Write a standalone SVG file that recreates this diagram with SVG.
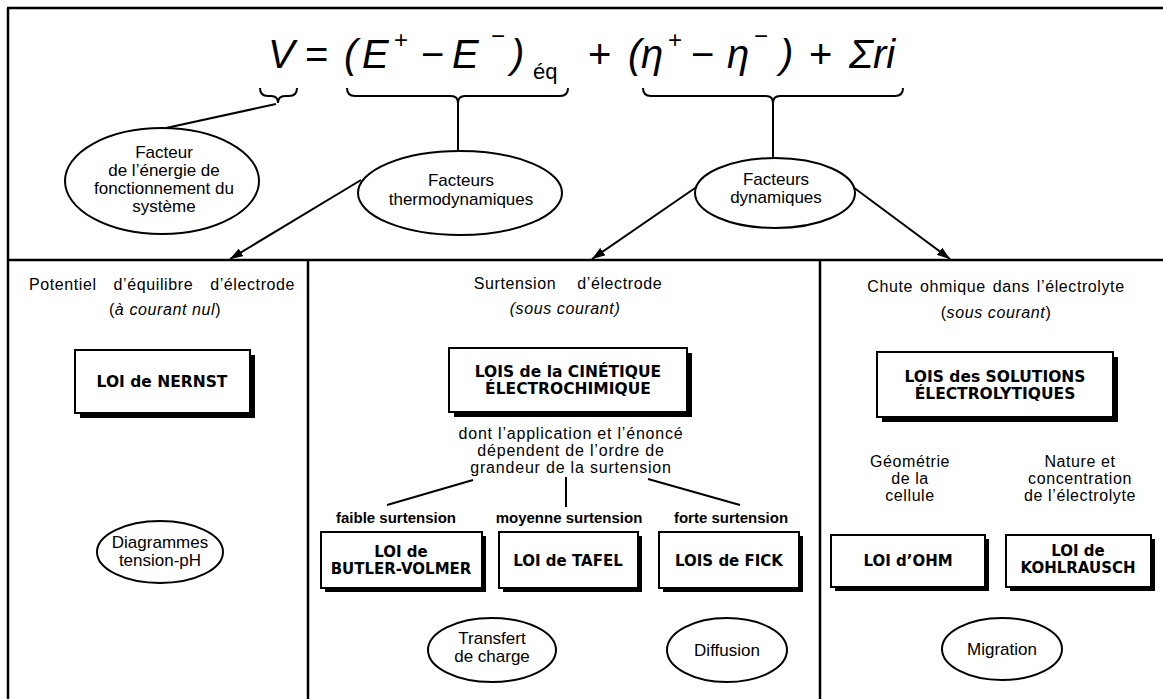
<svg xmlns="http://www.w3.org/2000/svg" width="1163" height="699" viewBox="0 0 1163 699">
<defs>
<style>
.bd{stroke:#000;stroke-width:2.5;fill:none}
.ln{stroke:#000;stroke-width:2;fill:none}
.el{fill:#fff;stroke:#000;stroke-width:2}
.sh{fill:#000}
.bx{fill:#fff;stroke:#000;stroke-width:2}
.t{font-family:"Liberation Sans",Arial,sans-serif;font-size:17px;fill:#000;text-anchor:middle}
.m{font-size:16px;letter-spacing:0.6px}
.hd{font-size:16px;letter-spacing:0.6px}
.it{font-style:italic}
.b{font-family:"DejaVu Sans",sans-serif;font-weight:bold;font-size:15.5px;fill:#000;text-anchor:middle}
.bs{font-size:15px}
.lb{font-family:"Liberation Sans",Arial,sans-serif;font-weight:bold;font-size:15px;fill:#000;text-anchor:middle}
.eq{font-family:"Liberation Sans",Arial,sans-serif;font-style:italic;font-size:40px;fill:#000}
.up{font-style:normal}
.sp{font-size:24px}
</style>
<marker id="ah" markerUnits="userSpaceOnUse" markerWidth="14" markerHeight="9" refX="13" refY="4.5" orient="auto">
<path d="M0,0 L13,4.5 L0,9 z" fill="#000"/>
</marker>
</defs>
<rect width="1163" height="699" fill="#fff"/>

<g id="frame">
<line class="bd" x1="7" y1="8" x2="1163" y2="8"/>
<line class="bd" x1="8" y1="8" x2="8" y2="699"/>
<line class="bd" x1="8" y1="260" x2="1163" y2="260"/>
<line class="bd" x1="308" y1="260" x2="308" y2="699"/>
<line class="bd" x1="820" y1="260" x2="820" y2="699"/>
</g>

<g id="equation">
<text class="eq" y="68"><tspan x="268">V</tspan><tspan x="305" class="up">=</tspan><tspan x="344">(</tspan><tspan x="362">E</tspan><tspan x="394" y="48" class="up sp">+</tspan><tspan x="421" y="68" class="up">−</tspan><tspan x="452">E</tspan><tspan x="491" y="44" class="up sp">−</tspan><tspan x="511" y="68">)</tspan><tspan x="533" y="79" class="up" style="font-size:22px">éq</tspan><tspan x="588" y="68" class="up">+</tspan><tspan x="628">(</tspan><tspan x="641">η</tspan><tspan x="668" y="48" class="up sp">+</tspan><tspan x="691" y="68" class="up">−</tspan><tspan x="727">η</tspan><tspan x="754" y="44" class="up sp">−</tspan><tspan x="780" y="68">)</tspan><tspan x="809" class="up">+</tspan><tspan x="849">Σri</tspan></text>
</g>

<g id="connectors">
<path class="ln" d="M260,88 Q260,96 268,96 L271,96 Q278,96 278,103 Q278,96 285,96 L289,96 Q297,96 297,88"/>
<path class="ln" d="M347,88 Q347,96 355,96 L451,96 Q458,96 458,103 Q458,96 465,96 L560,96 Q568,96 568,88"/>
<path class="ln" d="M643,88 Q643,96 651,96 L766,96 Q773,96 773,103 Q773,96 780,96 L895,96 Q903,96 903,88"/>
<line class="ln" x1="276" y1="104" x2="166" y2="128"/>
<line class="ln" x1="458" y1="103" x2="458" y2="151"/>
<line class="ln" x1="773" y1="103" x2="773" y2="158"/>
<line class="ln" x1="361" y1="180" x2="230" y2="259" marker-end="url(#ah)"/>
<line class="ln" x1="698" y1="186" x2="592" y2="259" marker-end="url(#ah)"/>
<line class="ln" x1="853" y1="187" x2="950" y2="259" marker-end="url(#ah)"/>
<line class="ln" x1="473" y1="480" x2="387" y2="505"/>
<line class="ln" x1="566" y1="477" x2="566" y2="507"/>
<line class="ln" x1="648" y1="479" x2="740" y2="505"/>
</g>

<g id="n-energie">
<ellipse class="el" cx="162" cy="181" rx="97" ry="53"/>
<text class="t" x="164" y="158">Facteur</text>
<text class="t" x="164" y="176">de l’énergie de</text>
<text class="t" x="164" y="194">fonctionnement du</text>
<text class="t" x="164" y="212">système</text>
</g>

<g id="n-thermo">
<ellipse class="el" cx="460" cy="193" rx="102" ry="42"/>
<text class="t" x="461" y="186">Facteurs</text>
<text class="t" x="461" y="205">thermodynamiques</text>
</g>

<g id="n-dyn">
<ellipse class="el" cx="775" cy="193" rx="80" ry="35"/>
<text class="t" x="776" y="185">Facteurs</text>
<text class="t" x="776" y="203">dynamiques</text>
</g>

<g id="p-equilibre">
<text class="t hd" x="162" y="290" style="word-spacing:12px">Potentiel d’équilibre d’électrode</text>
<text class="t hd" x="165" y="315">(<tspan class="it">à courant nul</tspan>)</text>
</g>

<g id="n-nernst">
<rect class="sh" x="80" y="355" width="175" height="63"/>
<rect class="bx" x="75" y="350" width="175" height="63"/>
<text class="b" x="162" y="387">LOI de NERNST</text>
</g>

<g id="n-diagrammes">
<ellipse class="el" cx="160" cy="552" rx="63" ry="31"/>
<text class="t" x="160" y="548">Diagrammes</text>
<text class="t" x="160" y="566">tension-pH</text>
</g>

<g id="p-surtension">
<text class="t hd" x="568" y="289" style="word-spacing:16px">Surtension d’électrode</text>
<text class="t hd it" x="565" y="314">(sous courant)</text>
</g>

<g id="n-cinetique">
<rect class="sh" x="454" y="353" width="238" height="64"/>
<rect class="bx" x="449" y="348" width="238" height="64"/>
<text class="b" x="568" y="377">LOIS de la CINÉTIQUE</text>
<text class="b" x="568" y="394">ÉLECTROCHIMIQUE</text>
</g>

<g id="n-dont">
<text class="t m" x="571" y="439" style="letter-spacing:0.8px">dont l’application et l’énoncé</text>
<text class="t m" x="571" y="456" style="letter-spacing:0.8px">dépendent de l’ordre de</text>
<text class="t m" x="571" y="473" style="letter-spacing:0.8px">grandeur de la surtension</text>
</g>

<g id="n-faible">
<text class="lb" x="396" y="523">faible surtension</text>
</g>
<g id="n-moyenne">
<text class="lb" x="569" y="523">moyenne surtension</text>
</g>
<g id="n-forte">
<text class="lb" x="731" y="523">forte surtension</text>
</g>

<g id="n-butler">
<rect class="sh" x="325" y="536" width="161" height="56"/>
<rect class="bx" x="321" y="532" width="161" height="56"/>
<text class="b bs" x="401" y="557">LOI de</text>
<text class="b bs" x="401" y="574">BUTLER-VOLMER</text>
</g>

<g id="n-tafel">
<rect class="sh" x="503" y="536" width="139" height="56"/>
<rect class="bx" x="499" y="532" width="139" height="56"/>
<text class="b bs" x="568" y="566">LOI de TAFEL</text>
</g>

<g id="n-fick">
<rect class="sh" x="663" y="536" width="140" height="56"/>
<rect class="bx" x="659" y="532" width="140" height="56"/>
<text class="b bs" x="729" y="566">LOIS de FICK</text>
</g>

<g id="n-transfert">
<ellipse class="el" cx="492" cy="650" rx="64" ry="32"/>
<text class="t" x="492" y="644">Transfert</text>
<text class="t" x="492" y="662">de charge</text>
</g>

<g id="n-diffusion">
<ellipse class="el" cx="727" cy="650" rx="60" ry="32"/>
<text class="t" x="727" y="656">Diffusion</text>
</g>

<g id="p-chute">
<text class="t hd" x="996" y="292" style="word-spacing:2px">Chute ohmique dans l’électrolyte</text>
<text class="t hd" x="996" y="318">(<tspan class="it">sous courant</tspan>)</text>
</g>

<g id="n-solutions">
<rect class="sh" x="882" y="357" width="236" height="65"/>
<rect class="bx" x="877" y="352" width="236" height="65"/>
<text class="b" x="995" y="382">LOIS des SOLUTIONS</text>
<text class="b" x="995" y="399">ÉLECTROLYTIQUES</text>
</g>

<g id="n-geometrie">
<text class="t m" x="910" y="467">Géométrie</text>
<text class="t m" x="910" y="484">de la</text>
<text class="t m" x="910" y="501">cellule</text>
</g>

<g id="n-nature">
<text class="t m" x="1080" y="467">Nature et</text>
<text class="t m" x="1080" y="484">concentration</text>
<text class="t m" x="1080" y="501">de l’électrolyte</text>
</g>

<g id="n-ohm">
<rect class="sh" x="835" y="539" width="154" height="52"/>
<rect class="bx" x="831" y="535" width="154" height="52"/>
<text class="b bs" x="908" y="566">LOI d’OHM</text>
</g>

<g id="n-kohlrausch">
<rect class="sh" x="1010" y="539" width="145" height="52"/>
<rect class="bx" x="1006" y="535" width="145" height="52"/>
<text class="b bs" x="1078" y="556">LOI de</text>
<text class="b bs" x="1078" y="573">KOHLRAUSCH</text>
</g>

<g id="n-migration">
<ellipse class="el" cx="1002" cy="649" rx="60" ry="31"/>
<text class="t" x="1002" y="655">Migration</text>
</g>
</svg>
